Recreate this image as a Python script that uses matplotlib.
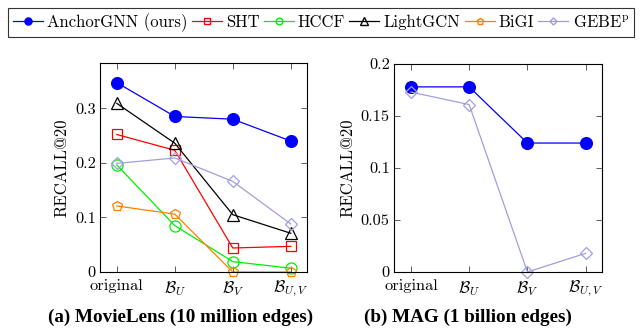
import numpy as np
import matplotlib
matplotlib.use("Agg")
import matplotlib.pyplot as plt
from matplotlib.lines import Line2D

plt.rcParams['font.family'] = 'serif'
plt.rcParams['font.serif'] = ['cmr10', 'DejaVu Serif']
plt.rcParams['mathtext.fontset'] = 'cm'
plt.rcParams['axes.formatter.use_mathtext'] = True

# data
cats = ['original', r'$\mathcal{B}_U$', r'$\mathcal{B}_V$', r'$\mathcal{B}_{U,V}$']

movielens = {
    'AnchorGNN (ours)': [0.347, 0.285, 0.280, 0.240],
    'SHT': [0.252, 0.223, 0.044, 0.047],
    'HCCF': [0.196, 0.085, 0.019, 0.007],
    'LightGCN': [0.309, 0.236, 0.105, 0.071],
    'BiGI': [0.121, 0.106, 0.0, 0.0],
    'GEBE$^{\\mathrm{p}}$': [0.199, 0.209, 0.166, 0.088],
}
mag = {
    'AnchorGNN (ours)': [0.178, 0.178, 0.124, 0.124],
    'GEBE$^{\\mathrm{p}}$': [0.173, 0.161, 0.0, 0.018],
}

# styles
styles = {
    'AnchorGNN (ours)': dict(color='#0000ff', marker='o', ms=8.5, mfc='#0000ff'),
    'SHT': dict(color='#ff0000', marker='s', ms=7.5, mfc='none'),
    'HCCF': dict(color='#00ee00', marker='o', ms=8, mfc='none'),
    'LightGCN': dict(color='black', marker='^', ms=9, mfc='none'),
    'BiGI': dict(color='#ff8000', marker='p', ms=7.5, mfc='none'),
    'GEBE$^{\\mathrm{p}}$': dict(color='#9f9fe0', marker='D', ms=6, mfc='none'),
}

fig = plt.figure(figsize=(6.42, 3.30), dpi=100)
W, H = 642, 330
ax1 = fig.add_axes([100 / W, 1 - 272 / H, 207 / W, 209 / H])
ax2 = fig.add_axes([394 / W, 1 - 272 / H, 208 / W, 208 / H])

x = np.arange(len(cats))

def draw(ax, data, ylim, yticks, yticklabels):
    for name, vals in data.items():
        st = styles[name]
        ax.plot(x, vals, color=st['color'], marker=st['marker'], ms=st['ms'],
                mfc=st['mfc'], mec=st['color'], lw=0.9, mew=0.9, clip_on=False)
    ax.set_xlim(-0.29, 3.28)
    ax.set_ylim(*ylim)
    ax.set_xticks(x)
    ax.set_xticklabels(cats)
    ax.set_yticks(yticks)
    ax.set_yticklabels(yticklabels)
    ax.tick_params(direction='in', top=True, right=True, labelsize=11.8,
                   length=4, width=0.6, color='#444444', pad=3)
    ax.tick_params(axis='x', pad=5)
    ax.set_ylabel('RECALL@20', fontsize=12, labelpad=4)
    for s in ax.spines.values():
        s.set_linewidth(0.8)

draw(ax1, movielens, (0, 0.383), [0, 0.1, 0.2, 0.3], ['0', '0.1', '0.2', '0.3'])
draw(ax2, mag, (0, 0.2), [0, 0.05, 0.1, 0.15, 0.2], ['0', '0.05', '0.1', '0.15', '0.2'])

# legend
handles = []
for name in movielens:
    st = styles[name]
    handles.append(Line2D([], [], color=st['color'], marker=st['marker'],
                          ms=st['ms'] * 0.6, mfc=st['mfc'], mec=st['color'], lw=0.9))
leg = fig.legend(handles, list(movielens.keys()), loc='upper center',
                 bbox_to_anchor=(0.5, 1 - 5 / H), ncol=6, fontsize=12,
                 frameon=True, fancybox=False, handlelength=1.8, handletextpad=0.25,
                 columnspacing=0.25, borderpad=0.3, borderaxespad=0.2,
                 edgecolor='black')
leg.get_frame().set_linewidth(0.8)

# captions
cap = dict(fontsize=13.8, fontweight='bold', family='Liberation Serif', ha='center', va='center')
fig.text(181 / W, 1 - 317 / H, '(a) MovieLens (10 million edges)', **cap)
fig.text(468 / W, 1 - 317 / H, '(b) MAG (1 billion edges)', **cap)

fig.savefig('out.png', dpi=100)
